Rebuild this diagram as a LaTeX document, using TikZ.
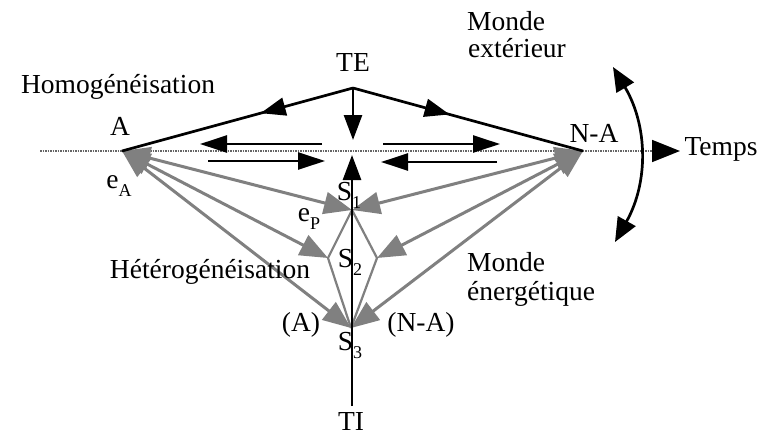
\documentclass[tikz,border=0pt]{standalone}
\usepackage{fontspec}
\setmainfont{Liberation Serif}
\usetikzlibrary{arrows.meta,decorations.markings}
\newcommand{\lowsub}[1]{\raisebox{-0.3em}{\fontsize{18}{18}\selectfont #1}}
\tikzset{
  BT/.tip={Triangle[length=25pt,width=18pt]},
  HT/.tip={Triangle[length=27pt,width=17pt]},
  GT/.tip={Triangle[length=28pt,width=22pt]},
  AT/.tip={Triangle[length=24pt,width=20pt]},
  XT/.tip={Triangle[length=28pt,width=22pt,color=black]},
}
\begin{document}
\begin{tikzpicture}[x=1pt,y=-1pt,
  lbl/.style={font=\fontsize{27.5}{30}\selectfont, inner sep=0pt, anchor=base},
  blk/.style={line width=2.7pt, draw=black},
  grayarrow/.style={line width=3pt, draw=black!50, {GT}-{GT}},
  grayline/.style={line width=2.2pt, draw=black!50},
  axisline/.style={line width=1.8pt, draw=black!60, dash pattern=on 1.5pt off 1pt},
  midarrow/.style={postaction={decorate, decoration={markings, mark=at position #1 with {\arrow{BT}}}}},
]
\useasboundingbox (0,0) rectangle (762,436);
\fill[white] (0,0) rectangle (762,436);

% key points
\coordinate (A) at (122,151);
\coordinate (NA) at (583,151);
\coordinate (TE) at (353,88);
\coordinate (TEend) at (353,140);
\coordinate (TIstart) at (352,406);
\coordinate (TIend) at (352,155);
\coordinate (S1) at (352,210);
\coordinate (S2L) at (328,258);
\coordinate (S2R) at (377,258);
\coordinate (S3) at (351,328);
\coordinate (axL) at (40,151);
\coordinate (axR) at (680,151);
\coordinate (arcT) at (613,67);
\coordinate (arcB) at (615,242);
\coordinate (h1s) at (322,144); \coordinate (h1e) at (200,144);
\coordinate (h2s) at (208,161); \coordinate (h2e) at (325,161);
\coordinate (h3s) at (383,144); \coordinate (h3e) at (500,144);
\coordinate (h4s) at (497,162); \coordinate (h4e) at (381,162);

% time axis
\draw[axisline, -{XT}] (axL) -- (axR);

% gray energetic network
\draw[grayline] (S1) -- (S2L) -- (S3);
\draw[grayline] (S1) -- (S2R) -- (S3);
\draw[grayarrow] (A) -- (S1);
\draw[grayarrow] (A) -- (S2L);
\draw[grayarrow] (A) -- (S3);
\draw[grayarrow] (NA) -- (S1);
\draw[grayarrow] (NA) -- (S2R);
\draw[grayarrow] (NA) -- (S3);

% black structure
\draw[blk, midarrow=0.40] (TE) -- (A);
\draw[blk, midarrow=0.42] (TE) -- (NA);
\draw[blk, -{BT}] (TE) -- (TEend);
\draw[blk, -{BT}] (TIstart) -- (TIend);
\draw[blk, -{HT}] (h1s) -- (h1e);
\draw[blk, -{HT}] (h2s) -- (h2e);
\draw[blk, -{HT}] (h3s) -- (h3e);
\draw[blk, -{HT}] (h4s) -- (h4e);
\draw[blk, {AT}-{AT}] (arcT) to[bend left=30] (arcB);

% labels
\node[lbl] (homog) at (118,93) {Homogénéisation};
\node[lbl] (te) at (353,71) {TE};
\node[lbl] (monde1) at (506,31) {Monde};
\node[lbl] (monde2) at (517,57) {extérieur};
\node[lbl] (la) at (120,135) {A};
\node[lbl] (lna) at (594,142) {N-A};
\node[lbl] (temps) at (721,155) {Temps};
\node[lbl] (ea) at (119,188) {e\lowsub{A}};
\node[lbl] (ep) at (309,221) {e\lowsub{P}};
\node[lbl] (s1) at (349,200) {S\lowsub{1}};
\node[lbl] (s2) at (350,267) {S\lowsub{2}};
\node[lbl] (s3) at (350,350) {S\lowsub{3}};
\node[lbl] (heter) at (210,278) {Hétérogénéisation};
\node[lbl] (pa) at (301,331) {(A)};
\node[lbl] (pna) at (421,331) {(N-A)};
\node[lbl, anchor=base west] (me1) at (467,271) {Monde};
\node[lbl, anchor=base west] (me2) at (467,300) {énergétique};
\node[lbl] (ti) at (351,430) {TI};
\end{tikzpicture}
\end{document}
